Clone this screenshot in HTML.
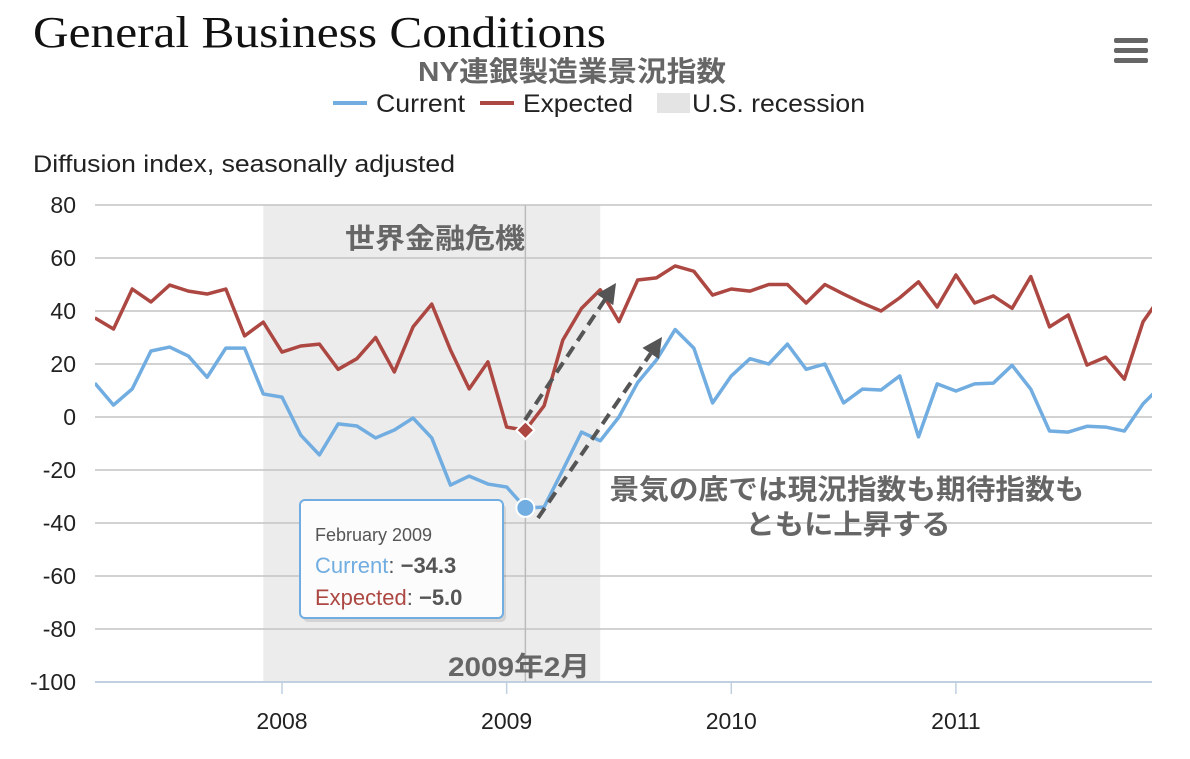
<!DOCTYPE html>
<html><head><meta charset="utf-8"><style>
body{margin:0;background:#fff;width:1190px;height:754px;overflow:hidden}
svg text{font-family:"Liberation Sans","Noto Sans CJK JP",sans-serif}
</style></head><body>
<svg id="chart" width="1190" height="754" xmlns="http://www.w3.org/2000/svg">
<text x="33" y="47" font-size="44" textLength="573" lengthAdjust="spacingAndGlyphs" style="font-family:'Liberation Serif',serif" fill="#111">General Business Conditions</text>
<text x="572" y="81" font-size="28" textLength="308" lengthAdjust="spacingAndGlyphs" font-weight="bold" fill="#666" text-anchor="middle">NY連銀製造業景況指数</text>
<g>
<rect x="1114" y="38" width="34" height="5" rx="2" fill="#666"/><rect x="1114" y="48" width="34" height="5" rx="2" fill="#666"/><rect x="1114" y="58" width="34" height="5" rx="2" fill="#666"/>
</g>
<g>
<g><line x1="333" y1="103" x2="367" y2="103" stroke="#71ade0" stroke-width="4"/><text x="376" y="112" font-size="25" textLength="89" lengthAdjust="spacingAndGlyphs" fill="#222">Current</text></g>
<g><line x1="480" y1="103" x2="514" y2="103" stroke="#ac4742" stroke-width="4"/><text x="523" y="112" font-size="25" textLength="110" lengthAdjust="spacingAndGlyphs" fill="#222">Expected</text></g>
<g><rect x="657" y="93" width="33" height="20" fill="#e4e4e4"/><text x="692" y="112" font-size="25" textLength="173" lengthAdjust="spacingAndGlyphs" fill="#222">U.S. recession</text></g>
</g>
<text x="33" y="172" font-size="24" textLength="422" lengthAdjust="spacingAndGlyphs" fill="#222">Diffusion index, seasonally adjusted</text>
<g id="plot"></g>
</svg>
<script>
const startYear=2007, startMonth=2; // March 2007 (0-based month)
const currentValues=[12.8,4.5,10.6,24.9,26.4,23,15,26,26,8.7,7.5,-6.8,-14.3,-2.6,-3.4,-7.9,-4.9,-0.4,-7.9,-25.7,-22.3,-25.3,-26.4,-34.3,-34,-20,-5.7,-9,0,13,21.5,33,26,5.3,15.5,22,20,27.5,18,20,5.3,10.5,10.2,15.5,-7.5,12.5,9.8,12.5,12.8,19.5,10.5,-5.3,-5.7,-3.5,-3.8,-5.3,5,12];
const expectedValues=[37.4,33.2,48.3,43.4,49.8,47.5,46.4,48.3,30.6,35.8,24.5,26.8,27.5,18,22,30,17,34,42.6,25.3,10.6,20.8,-3.8,-5,4.2,29,41,48,36,51.7,52.5,57,55,46,48.3,47.5,50,50,43,50,46.4,43,40,45,51,41.5,53.6,43,45.7,41,53,34,38.5,19.6,22.6,14.3,36,46];
const yTicks=[80,60,40,20,0,-20,-40,-60,-80,-100];
const xTickYears=[2008,2009,2010,2011];
const recession=[[2007,11],[2009,5]];
const L=95,R=1152,T=205,B=682;
function y(v){return B-(v+100)/180*(B-T);}
function xm(yr,m){return 282+((yr-2008)*12+m)*18.72;}
function xi(i){const t=startMonth+i;return xm(startYear+Math.floor(t/12),t%12);}
const NS='http://www.w3.org/2000/svg';
const g=document.getElementById('plot');
function mk(tag,attrs,parent){const e=document.createElementNS(NS,tag);for(const k in attrs)e.setAttribute(k,attrs[k]);(parent||g).appendChild(e);return e;}
const cp=mk('clipPath',{id:'clip'});mk('rect',{x:L,y:T-10,width:R-L,height:B-T+20},cp);
const rec=mk('rect',{x:xm(...recession[0]),y:T,width:xm(...recession[1])-xm(...recession[0]),height:B-T,fill:'#ececec'});


yTicks.forEach(v=>{
 const ln=mk('line',{x1:L,x2:R,y1:y(v),y2:y(v),stroke:v===-100?'#c0d0e0':'#c4c4c4','stroke-width':v===-100?2:1.5});
 
 
 const t=mk('text',{x:76,y:y(v)+8,'font-size':23,'text-anchor':'end',fill:'#222'});
 t.textContent=v;
 
 
});
xTickYears.forEach(yr=>{
 const x=xm(yr,0);
 const tk=mk('line',{x1:x,x2:x,y1:B,y2:B+12,stroke:'#c0d0e0','stroke-width':1.5});
 
 
 const t=mk('text',{x:x,y:729,'font-size':23,'text-anchor':'middle',fill:'#222'});
 t.textContent=yr;
 
 
});
const ch=mk('line',{x1:xm(2009,1),x2:xm(2009,1),y1:T,y2:B,stroke:'#bbb','stroke-width':1.5});


function series(vals,color,name){
 const p=mk('polyline',{points:vals.map((v,i)=>xi(i)+','+y(v)).join(' '),fill:'none',stroke:color,'stroke-width':3.5,'stroke-linejoin':'round','clip-path':'url(#clip)'});
 
 
}
series(expectedValues,'#ac4742','expected-line');
series(currentValues,'#71ade0','current-line');
const fi=23;
const mc=mk('circle',{cx:xi(fi),cy:y(currentValues[fi]),r:9,fill:'#71ade0',stroke:'#fff','stroke-width':2});


const ex=xi(fi),ey=y(expectedValues[fi]);
const me=mk('polygon',{points:`${ex},${ey-9} ${ex+9},${ey} ${ex},${ey+9} ${ex-9},${ey}`,fill:'#ac4742',stroke:'#fff','stroke-width':2});


function arrow(x1,y1,x2,y2,name){
 const dx=x2-x1,dy=y2-y1,l=Math.hypot(dx,dy),ux=dx/l,uy=dy/l;
 const bx=x2-ux*20,by=y2-uy*20;
 const ln=mk('line',{x1:x1,y1:y1,x2:bx,y2:by,stroke:'#555','stroke-width':4,'stroke-dasharray':'12,7'});
 
 
 const h=mk('polygon',{points:`${x2},${y2} ${bx-uy*10},${by+ux*10} ${bx+uy*10},${by-ux*10}`,fill:'#555'});
 
 
}
arrow(525,420,616,283,'expected-arrow');
arrow(538,518,662,337,'current-arrow');
</script>
<svg width="1190" height="754" style="position:absolute;left:0;top:0" xmlns="http://www.w3.org/2000/svg">
<text x="435" y="248" font-size="28" textLength="180" lengthAdjust="spacingAndGlyphs" font-weight="bold" fill="#666" text-anchor="middle">世界金融危機</text>
<text x="847" y="499" font-size="28" textLength="475" lengthAdjust="spacingAndGlyphs" font-weight="bold" fill="#666" text-anchor="middle">景気の底では現況指数も期待指数も</text>
<text x="848" y="534" font-size="28" textLength="205" lengthAdjust="spacingAndGlyphs" font-weight="bold" fill="#666" text-anchor="middle">ともに上昇する</text>
<text x="519" y="676" font-size="27" textLength="142" lengthAdjust="spacingAndGlyphs" font-weight="bold" fill="#666" text-anchor="middle">2009年2月</text>
<g>
<rect x="301" y="502" width="203" height="118" rx="5" fill="#000" opacity="0.1" transform="translate(2,2)"/>
<rect x="300" y="500" width="203" height="118" rx="5" fill="#fcfcfc" stroke="#71ade0" stroke-width="2"/>
<text x="315" y="541" font-size="18" fill="#555">February 2009</text>
<text x="315" y="573" font-size="22" fill="#71ade0">Current<tspan fill="#555">: </tspan><tspan fill="#555" font-weight="bold">−34.3</tspan></text>
<text x="315" y="605" font-size="22" fill="#ac4742">Expected<tspan fill="#555">: </tspan><tspan fill="#555" font-weight="bold">−5.0</tspan></text>
</g>
</svg>
</body></html>
